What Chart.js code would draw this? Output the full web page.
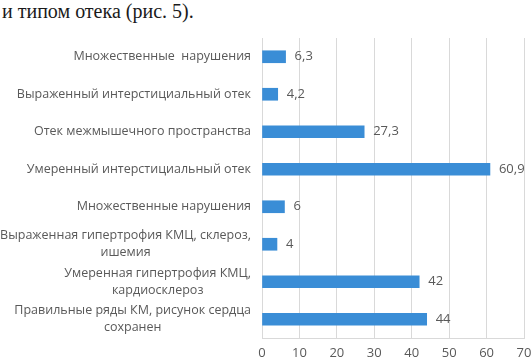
<!DOCTYPE html>
<html>
<head>
<meta charset="utf-8">
<script src="https://cdn.jsdelivr.net/npm/chart.js@4"></script>
<style>
  html, body { margin: 0; padding: 0; background: #fff; }
  #wrap { position: relative; width: 532px; height: 360px; }
  #caption {
    position: absolute; left: 2px; top: 0px;
    font-family: "Liberation Serif", "DejaVu Serif", serif;
    font-size: 20px; color: #1a1a1a; white-space: nowrap;
  }
  canvas { position: absolute; left: 0; top: 0; }
</style>
</head>
<body>
<div id="wrap">
  <div id="caption">и типом отека (рис. 5).</div>
  <canvas id="myChart" width="532" height="360"></canvas>
</div>
<script>
// categories, top to bottom
var categories = [
    ["Множественные  нарушения"],
    ["Выраженный интерстициальный отек"],
    ["Отек межмышечного пространства"],
    ["Умеренный интерстициальный отек"],
    ["Множественные нарушения"],
    ["Выраженная гипертрофия КМЦ, склероз,", "ишемия"],
    ["Умеренная гипертрофия КМЦ,", "кардиосклероз"],
    ["Правильные ряды КМ, рисунок сердца", "сохранен"]
];
var values = [6.3, 4.2, 27.3, 60.9, 6, 4, 42, 44];
var x_ticks = [0, 10, 20, 30, 40, 50, 60, 70];

var textColor = '#595959';
var fontFamily = '"Open Sans", "DejaVu Sans", sans-serif';

// draws the category labels (right aligned block, lines centered) and the value labels
var labelsPlugin = {
    id: 'labelsPlugin',
    afterDatasetsDraw: function(chart) {
        var ctx = chart.ctx;
        var yScale = chart.scales.y;
        var meta = chart.getDatasetMeta(0);
        ctx.save();
        ctx.fillStyle = textColor;
        ctx.font = '12.5px ' + fontFamily;
        ctx.textBaseline = 'middle';

        // category labels
        var rightEdge = chart.chartArea.left - 11;
        var lineH = 17;
        for (var i = 0; i < categories.length; i++) {
            var lines = categories[i];
            var y = yScale.getPixelForTick(i);
            var blockW = 0;
            lines.forEach(function(l) { blockW = Math.max(blockW, ctx.measureText(l).width); });
            var cx = rightEdge - blockW / 2;
            ctx.textAlign = 'center';
            for (var j = 0; j < lines.length; j++) {
                var ly = y + (j - (lines.length - 1) / 2) * lineH;
                ctx.fillText(lines[j], cx, ly);
            }
        }

        // value labels
        ctx.font = '13px ' + fontFamily;
        ctx.textAlign = 'left';
        meta.data.forEach(function(bar, i) {
            var txt = String(values[i]).replace('.', ',');
            ctx.fillText(txt, bar.x + 9, bar.y);
        });
        ctx.restore();
    }
};

var ctx = document.getElementById('myChart').getContext('2d');
var myChart = new Chart(ctx, {
    type: 'bar',
    data: {
        labels: categories,
        datasets: [{
            data: values,
            backgroundColor: 'rgb(58, 141, 214)',
            borderWidth: 0,
            barThickness: 12
        }]
    },
    plugins: [labelsPlugin],
    options: {
        indexAxis: 'y',
        responsive: false,
        animation: false,
        layout: { padding: { left: 262, right: 8, top: 38, bottom: 0 } },
        plugins: {
            legend: { display: false },
            tooltip: { enabled: false }
        },
        scales: {
            y: {
                display: false
            },
            x: {
                min: x_ticks[0],
                max: x_ticks[x_ticks.length - 1],
                afterFit: function(scale) {
                    scale.height = 22;
                    scale.paddingLeft = 0;
                    scale.paddingRight = 0;
                },
                ticks: {
                    stepSize: 10,
                    color: textColor,
                    font: { size: 13, family: fontFamily },
                    padding: 7
                },
                grid: {
                    color: '#d9d9d9',
                    drawTicks: false
                },
                border: { display: true, color: '#d9d9d9' }
            }
        }
    }
});
</script>
</body>
</html>
